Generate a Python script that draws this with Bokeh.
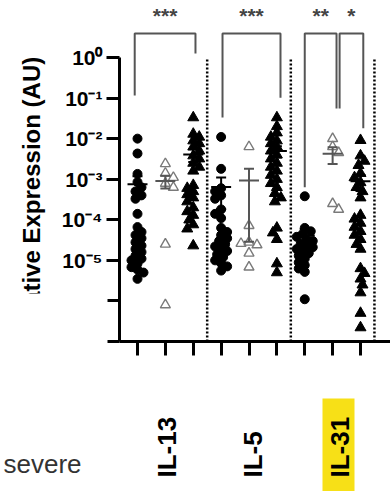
import math
from bokeh.plotting import figure
from bokeh.models import (Range1d, FixedTicker, CustomJSTickFormatter, BoxAnnotation,
                          ColumnDataSource)
from bokeh.core.properties import value
from bokeh.embed import file_html
from bokeh.resources import INLINE

# ---------------- data ----------------
cytokines = ["IL-13", "IL-5", "IL-31"]
y_ticks = [1e-7, 1e-6, 1e-5, 1e-4, 1e-3, 1e-2, 1e-1, 1e0]
y_title = "Relative Expression (AU)"
side_label = "severe"

il13_filled_circle = [1.0e-2, 4.3e-3, 1.35e-3, 8.5e-4, 6.3e-4, 5.0e-4, 4.0e-4, 3.3e-4, 1.4e-4,
                      6.6e-5, 5.0e-5, 4.2e-5, 3.5e-5, 2.8e-5, 2.3e-5, 1.9e-5, 1.6e-5, 1.3e-5,
                      1.1e-5, 1.0e-5, 8.3e-6, 6.8e-6, 5.9e-6, 5.0e-6, 3.5e-6]
il13_open_triangle = [2.4e-3, 1.4e-3, 1.1e-3, 7.9e-4, 6.3e-4, 2.5e-5, 8.0e-7]
il13_filled_triangle = [3.3e-2, 1.3e-2, 1.1e-2, 8.9e-3, 7.6e-3, 6.3e-3, 5.0e-3, 3.8e-3, 3.2e-3,
                        2.5e-3, 2.0e-3, 1.6e-3, 7.1e-4, 6.0e-4, 5.0e-4, 4.2e-4, 3.5e-4, 2.8e-4,
                        2.0e-4, 1.6e-4, 1.3e-4, 1.0e-4, 7.6e-5, 6.0e-5, 2.3e-5]

il5_filled_circle = [1.1e-2, 1.8e-3, 6.0e-4, 5.0e-4, 4.0e-4, 3.3e-4, 1.8e-4, 1.4e-4, 1.1e-4,
                     6.3e-5, 5.0e-5, 4.2e-5, 3.5e-5, 3.0e-5, 2.5e-5, 2.2e-5, 1.9e-5, 1.7e-5,
                     1.4e-5, 1.2e-5, 1.0e-5, 8.5e-6, 7.1e-6, 5.6e-6]
il5_open_triangle = [6.3e-3, 7.2e-5, 2.8e-5, 2.6e-5, 2.4e-5, 1.5e-5, 6.8e-6]
il5_filled_triangle = [3.3e-2, 2.0e-2, 1.4e-2, 1.1e-2, 8.9e-3, 7.6e-3, 6.3e-3, 5.0e-3, 4.0e-3,
                       3.2e-3, 2.5e-3, 2.0e-3, 1.6e-3, 1.26e-3, 1.0e-3, 7.9e-4, 6.3e-4, 4.5e-4,
                       3.5e-4, 2.8e-4, 6.3e-5, 4.8e-5, 3.3e-5, 8.3e-6, 5.0e-6]

il31_filled_circle = [3.8e-4, 6.3e-5, 5.2e-5, 4.5e-5, 3.8e-5, 3.3e-5, 3.0e-5, 2.6e-5, 2.3e-5,
                      2.1e-5, 1.9e-5, 1.7e-5, 1.5e-5, 1.3e-5, 1.1e-5, 8.9e-6, 7.6e-6, 6.3e-6,
                      5.2e-6, 1.1e-6]
il31_open_triangle = [1.0e-2, 6.3e-3, 4.5e-3, 2.5e-4, 1.8e-4]
il31_filled_triangle = [9.1e-3, 3.8e-3, 2.8e-3, 2.2e-3, 1.4e-3, 1.1e-3, 8.3e-4, 6.3e-4, 5.0e-4,
                        3.5e-4, 1.3e-4, 1.05e-4, 8.3e-5, 6.6e-5, 5.2e-5, 4.2e-5, 3.3e-5, 2.5e-5,
                        1.9e-5, 6.3e-6, 4.8e-6, 3.5e-6, 2.5e-6, 1.6e-6, 5.0e-7, 2.2e-7]

# significance brackets: left column, right column, left leg end, right leg end, label
sig_left_col = [-0.1, 3.05, 6.0, 7.25]
sig_right_col = [2.08, 5.13, 7.14, 8.1]
sig_left_end = [0.115, 0.033, 6.3e-4, 0.055]
sig_right_end = [1.26, 0.102, 0.055, 0.018]
sig_top = 3.9
sig_labels = ["***", "***", "**", "*"]
star_y = 10.7

# ---------------- layout constants (pixels) ----------------
W, H = 390, 491
YAXIS_PX = 119
COL0_PX, COL_DX = 137.0, 27.875          # pixel x of first column, spacing
Y0_PX, PX_DEC = 57.0, 40.571             # pixel y of 10^0, pixels per decade


def px_x(px):
    return (px - COL0_PX) / COL_DX


def px_y(py):
    return 10 ** (-(py - Y0_PX) / PX_DEC)


x_start, x_end = px_x(0), px_x(W)
y_top, y_bot = px_y(0), px_y(H)
x_axis_pos = px_x(YAXIS_PX)

FONT = value("Liberation Sans")

p = figure(width=W, height=H, x_range=Range1d(x_start, x_end),
           y_range=Range1d(y_bot, y_top), y_axis_type="log",
           output_backend="svg", toolbar_location=None,
           min_border_left=0, min_border_right=0,
           min_border_top=0, min_border_bottom=0)
p.outline_line_color = None
p.xgrid.visible = False
p.ygrid.visible = False
p.background_fill_color = "white"

# y axis, pinned at the left of the plotted columns
ya = p.yaxis[0]
ya.fixed_location = x_axis_pos
ya.ticker = FixedTicker(ticks=y_ticks, minor_ticks=[])
ya.bounds = (y_ticks[0], y_ticks[-1])
ya.formatter = CustomJSTickFormatter(code="""
const sup = {"0":"\u2070","1":"\u00b9","2":"\u00b2","3":"\u00b3","4":"\u2074","5":"\u2075",
             "6":"\u2076","7":"\u2077","8":"\u2078","9":"\u2079","-":"\u207b"};
const e = Math.round(Math.log10(tick));
return "10" + String(e).split("").map(c => sup[c]).join("");
""")
ya.axis_line_width = 3
ya.major_tick_line_width = 3
ya.major_tick_out = 13
ya.major_tick_in = 0
ya.minor_tick_line_color = None
ya.major_label_text_font = "Liberation Sans"
ya.major_label_text_font_style = "bold"
ya.major_label_text_font_size = "21px"
ya.major_label_text_color = "black"
ya.major_label_standoff = 4

# x axis at 10^-7
xa = p.xaxis[0]
xa.fixed_location = y_ticks[0]
xa.bounds = (x_axis_pos, x_end)
xa.ticker = FixedTicker(ticks=list(range(9)), minor_ticks=[])
xa.formatter = CustomJSTickFormatter(code="return ''")
xa.axis_line_width = 3
xa.major_tick_line_width = 3
xa.major_tick_out = 14
xa.major_tick_in = 0
xa.minor_tick_line_color = None

# y-axis title, centred on the axis length
p.text(x=[px_x(31)], y=[math.sqrt(y_ticks[0] * y_ticks[-1])], text=[y_title],
       angle=math.pi / 2, text_font=FONT, text_font_size="24px", text_font_style="bold",
       text_color="black", text_align="center", text_baseline="middle")

# dotted separators
sep_x = [2.5, 5.5, 8.5]
p.segment(x0=sep_x, x1=sep_x, y0=[y_ticks[0]] * 3, y1=[y_ticks[-1]] * 3,
          line_color="black", line_width=2.5, line_dash="2 2")


def swarm_offsets(vals, min_d=6.5, step=2.0):
    ys = [-math.log10(v) * PX_DEC for v in vals]
    order = sorted(range(len(vals)), key=lambda i: ys[i])
    placed, offs = [], [0.0] * len(vals)
    for n, i in enumerate(order):
        k = 0
        while True:
            if k == 0:
                cands = [0.0]
            else:
                cands = [k * step, -k * step] if n % 2 == 0 else [-k * step, k * step]
            found = None
            for c in cands:
                if all((c - ox) ** 2 + (ys[i] - oy) ** 2 >= min_d ** 2 for ox, oy in placed):
                    found = c
                    break
            if found is not None:
                break
            k += 1
        offs[i] = found
        placed.append((found, ys[i]))
    return offs


def mean_sem(vals):
    n = len(vals)
    m = sum(vals) / n
    sd = math.sqrt(sum((v - m) ** 2 for v in vals) / (n - 1))
    return m, sd / math.sqrt(n)


series = [
    (il13_filled_circle, il13_open_triangle, il13_filled_triangle),
    (il5_filled_circle, il5_open_triangle, il5_filled_triangle),
    (il31_filled_circle, il31_open_triangle, il31_filled_triangle),
]
styles = [
    dict(marker="circle", size=9, fill_color="black", line_color="black", line_width=1),
    dict(marker="triangle", size=10, fill_color=None, line_color="#7a7a7a", line_width=1.4),
    dict(marker="triangle", size=11, fill_color="black", line_color="black", line_width=1),
]
bar_colors = ["black", "#555555", "black"]

for g, group in enumerate(series):
    for s, vals in enumerate(group):
        col = 3 * g + s
        offs = swarm_offsets(vals, min_d=6.0 if s != 1 else 8.0)
        xs = [col + o / COL_DX for o in offs]
        src = ColumnDataSource(dict(x=xs, y=vals))
        p.scatter("x", "y", source=src, **styles[s])
    for s, vals in enumerate(group):
        col = 3 * g + s
        m, se = mean_sem(vals)
        lo = max(m - se, y_ticks[0])
        hi = m + se
        half_mean = 10 / COL_DX
        half_cap = 5 / COL_DX
        c = bar_colors[s]
        p.segment(x0=[col, col - half_mean, col - half_cap, col - half_cap],
                  x1=[col, col + half_mean, col + half_cap, col + half_cap],
                  y0=[lo, m, hi, lo], y1=[hi, m, hi, lo],
                  line_color=c, line_width=2)

# significance brackets
bx, by = [], []
for xl, xr, yl, yr in zip(sig_left_col, sig_right_col, sig_left_end, sig_right_end):
    bx.append([xl, xl, xr, xr])
    by.append([yl, sig_top, sig_top, yr])
p.multi_line(xs=bx, ys=by, line_color="#555555", line_width=2)
p.text(x=[(a + b) / 2 for a, b in zip(sig_left_col, sig_right_col)], y=[star_y] * 4,
       text=sig_labels, text_font=FONT, text_font_size="21px", text_font_style="bold",
       text_color="#444444", text_align="center", text_baseline="middle")

# category labels (with highlight on IL-31)
p.quad(left=[px_x(322)], right=[px_x(354)], top=[px_y(398)], bottom=[y_bot],
       fill_color="#F7E017", line_color=None)
label_x = [1.0 + 2 / COL_DX, 4.0 + 4 / COL_DX, 7.0 + 7 / COL_DX]
p.text(x=label_x, y=[px_y(477)] * 3, text=cytokines, angle=math.pi / 2,
       text_font=FONT, text_font_size="26px", text_font_style="bold",
       text_color="black", text_align="left", text_baseline="middle")

# white cover over the lower-left corner (as in the cropped source)
p.add_layout(BoxAnnotation(left=x_start, right=px_x(107), top=px_y(293), bottom=y_bot,
                           fill_color="white", fill_alpha=1.0, line_color=None,
                           level="annotation"))

p.text(x=[px_x(81)], y=[px_y(463)], text=[side_label], text_font=FONT,
       text_font_size="26px", text_color="#333333", text_align="right",
       text_baseline="alphabetic", level="overlay")

open("out.html", "w").write(file_html(p, INLINE))
